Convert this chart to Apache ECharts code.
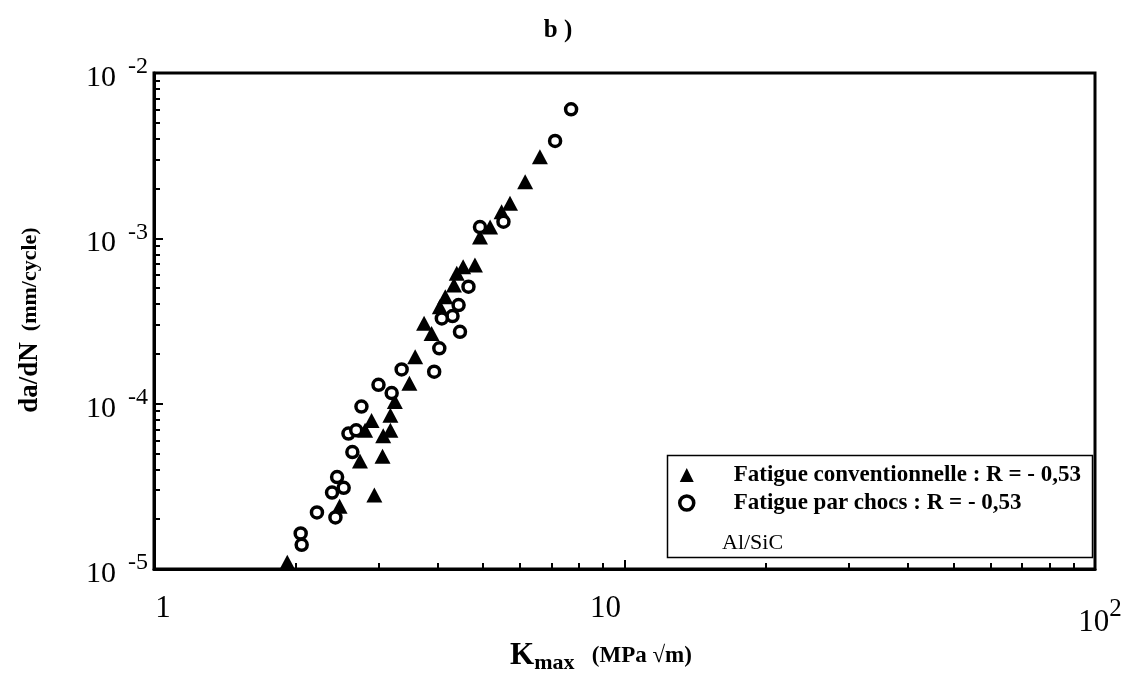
<!DOCTYPE html>
<html>
<head>
<meta charset="utf-8">
<script src="https://cdn.jsdelivr.net/npm/echarts@6/dist/echarts.min.js"></script>
<style>
html,body{margin:0;padding:0;background:#fff;}
#chart{width:1135px;height:676px;}
</style>
</head>
<body>
<div id="chart"></div>
<script>
// ---- data ----
const conventionnelle = [
  [6.61, 3.12e-3], [6.15, 2.20e-3], [5.71, 1.63e-3], [5.48, 1.45e-3],
  [5.18, 1.17e-3], [4.93, 1.02e-3], [4.81, 6.89e-4], [4.54, 6.73e-4],
  [4.40, 6.14e-4], [4.34, 5.22e-4], [4.16, 4.43e-4], [4.05, 3.86e-4],
  [3.75, 3.06e-4], [3.89, 2.66e-4], [3.59, 1.92e-4], [3.49, 1.33e-4],
  [3.25, 1.03e-4], [3.18, 8.5e-5], [2.90, 7.9e-5], [3.18, 6.9e-5],
  [3.07, 6.4e-5], [2.81, 6.9e-5], [3.06, 4.8e-5], [2.74, 4.5e-5],
  [2.94, 2.8e-5], [2.48, 2.4e-5], [1.92, 1.1e-5]
];
const chocs = [
  [7.70, 6.03e-3], [7.12, 3.88e-3], [5.53, 1.26e-3], [4.93, 1.17e-3],
  [4.66, 5.10e-4], [4.44, 3.95e-4], [4.31, 3.39e-4], [4.09, 3.28e-4],
  [4.47, 2.72e-4], [4.04, 2.16e-4], [3.94, 1.56e-4], [3.36, 1.61e-4],
  [3.00, 1.30e-4], [3.20, 1.16e-4], [2.76, 9.6e-5], [2.59, 6.6e-5],
  [2.69, 6.9e-5], [2.64, 5.1e-5], [2.45, 3.6e-5], [2.53, 3.1e-5],
  [2.39, 2.9e-5], [2.22, 2.2e-5], [2.43, 2.05e-5], [2.05, 1.64e-5],
  [2.06, 1.40e-5]
];
const seriesNames = ['Fatigue conventionnelle : R = - 0,53', 'Fatigue par chocs : R = - 0,53'];
const xMajorTicks = [1, 10, 100];
const xMinorTicks = [2, 3, 4, 5, 6, 7, 8, 9, 20, 30, 40, 50, 60, 70, 80, 90];
const yMajorTicks = [1e-5, 1e-4, 1e-3, 1e-2];
const yMinorTicks = [2e-5, 3e-5, 4e-5, 5e-5, 6e-5, 7e-5, 8e-5, 9e-5,
                     2e-4, 3e-4, 4e-4, 5e-4, 6e-4, 7e-4, 8e-4, 9e-4,
                     2e-3, 3e-3, 4e-3, 5e-3, 6e-3, 7e-3, 8e-3, 9e-3];
const titleText = 'b )';
const yTitle = ['da/dN', '(mm/cycle)'];
const xTitle = ['K', 'max', '(MPa \u221Am)'];
const materialText = 'Al/SiC';

const SERIF = '"Liberation Serif", "DejaVu Serif", serif';
const chart = echarts.init(document.getElementById('chart'));

const common = {type: 'log', logBase: 10, splitLine: {show: false}};

chart.setOption({
  backgroundColor: '#fff',
  animation: false,
  grid: {left: 154, right: 40, top: 73, bottom: 107, show: true,
         borderColor: '#000', borderWidth: 3, containLabel: false},
  xAxis: [
    Object.assign({}, common, {
      min: 1, max: 100, position: 'bottom',
      axisLine: {show: true, lineStyle: {color: '#000', width: 3}},
      axisTick: {show: true, inside: true, length: 9, lineStyle: {color: '#000', width: 2}, customValues: xMajorTicks},
      axisLabel: {
        customValues: xMajorTicks, margin: 24, color: '#000',
        fontFamily: SERIF,
        formatter: function (v) {
          const e = Math.round(Math.log10(v));
          if (e === 0) return '{a|1}';
          if (e === 1) return '{c|10}';
          return '{d|10}{s|' + e + '}';
        },
        rich: {
          a: {fontSize: 31, fontFamily: SERIF, color: '#000', padding: [0, 0, 0, 18]},
          c: {fontSize: 31, fontFamily: SERIF, color: '#000', padding: [0, 38, 0, 0]},
          d: {fontSize: 31, fontFamily: SERIF, color: '#000', padding: [14, 0, 0, 10]},
          s: {fontSize: 25, fontFamily: SERIF, color: '#000', padding: [0, 0, 12, 0]}
        }
      }
    }),
    Object.assign({}, common, {
      min: 1, max: 100, position: 'bottom',
      axisLine: {show: false},
      axisTick: {show: true, inside: true, length: 6, lineStyle: {color: '#000', width: 2}, customValues: xMinorTicks},
      axisLabel: {show: false}
    })
  ],
  yAxis: [
    Object.assign({}, common, {
      min: 1e-5, max: 1e-2, position: 'left',
      axisLine: {show: true, lineStyle: {color: '#000', width: 3}},
      axisTick: {show: true, inside: true, length: 9, lineStyle: {color: '#000', width: 2}, customValues: yMajorTicks},
      axisLabel: {
        customValues: yMajorTicks, margin: 6, color: '#000', fontFamily: SERIF,
        formatter: function (v) {
          const e = Math.round(Math.log10(v));
          return '{b|10}{s|  ' + e + '}';
        },
        rich: {
          b: {fontSize: 30, fontFamily: SERIF, color: '#000', padding: [10, 0, 0, 0]},
          s: {fontSize: 24, fontFamily: SERIF, color: '#000', padding: [0, 0, 12, 0]}
        }
      }
    }),
    Object.assign({}, common, {
      min: 1e-5, max: 1e-2, position: 'left',
      axisLine: {show: false},
      axisTick: {show: true, inside: true, length: 6, lineStyle: {color: '#000', width: 2}, customValues: yMinorTicks},
      axisLabel: {show: false}
    })
  ],
  legend: {
    orient: 'vertical', left: 678, top: 462, padding: 0,
    itemWidth: 14, itemHeight: 14, itemGap: 2,
    textStyle: {fontFamily: SERIF, fontWeight: 'bold', fontSize: 23, lineHeight: 26,
                color: '#000', padding: [0, 0, 0, 35]},
    data: [
      {name: seriesNames[0], icon: 'triangle'},
      {name: seriesNames[1], icon: 'circle', itemStyle: {borderWidth: 3.5}}
    ]
  },
  series: [
    {
      name: seriesNames[0], type: 'scatter', xAxisIndex: 0, yAxisIndex: 0,
      symbol: 'triangle', symbolSize: [16, 15],
      itemStyle: {color: '#000', opacity: 1},
      data: conventionnelle, z: 3
    },
    {
      name: seriesNames[1], type: 'scatter', xAxisIndex: 0, yAxisIndex: 0,
      symbol: 'circle', symbolSize: 11,
      itemStyle: {color: '#fff', borderColor: '#000', borderWidth: 3.5, opacity: 1},
      data: chocs, z: 4
    }
  ],
  graphic: [
    {type: 'rect', left: 665, top: 453, z: 1,
     shape: {x: 0, y: 0, width: 425, height: 102},
     style: {fill: 'none', stroke: '#000', lineWidth: 1.5}},
    {type: 'text', x: 722, y: 543, z: 10,
     style: {text: materialText, font: '22px ' + SERIF, fill: '#000', textVerticalAlign: 'middle'}},
    {type: 'text', x: 558, y: 31, z: 10,
     style: {text: titleText, font: 'bold 25px ' + SERIF, fill: '#000', textAlign: 'center', textVerticalAlign: 'middle'}},
    {type: 'text', x: 30, y: 320, rotation: Math.PI / 2, z: 10,
     style: {
       text: '{a|' + yTitle[0] + '}{b|  ' + yTitle[1] + '}',
       textAlign: 'center', textVerticalAlign: 'middle',
       rich: {
         a: {fontFamily: SERIF, fontWeight: 'bold', fontSize: 27, fill: '#000'},
         b: {fontFamily: SERIF, fontWeight: 'bold', fontSize: 22, fill: '#000'}
       }
     }},
    {type: 'text', x: 601, y: 656, z: 10,
     style: {
       text: '{k|' + xTitle[0] + '}{m|' + xTitle[1] + '}{u|   ' + xTitle[2] + '}',
       textAlign: 'center', textVerticalAlign: 'middle',
       rich: {
         k: {fontFamily: SERIF, fontWeight: 'bold', fontSize: 31, fill: '#000'},
         m: {fontFamily: SERIF, fontWeight: 'bold', fontSize: 22, fill: '#000', padding: [14, 0, 0, 0]},
         u: {fontFamily: SERIF, fontWeight: 'bold', fontSize: 23, fill: '#000'}
       }
     }}
  ]
});
</script>
</body>
</html>
